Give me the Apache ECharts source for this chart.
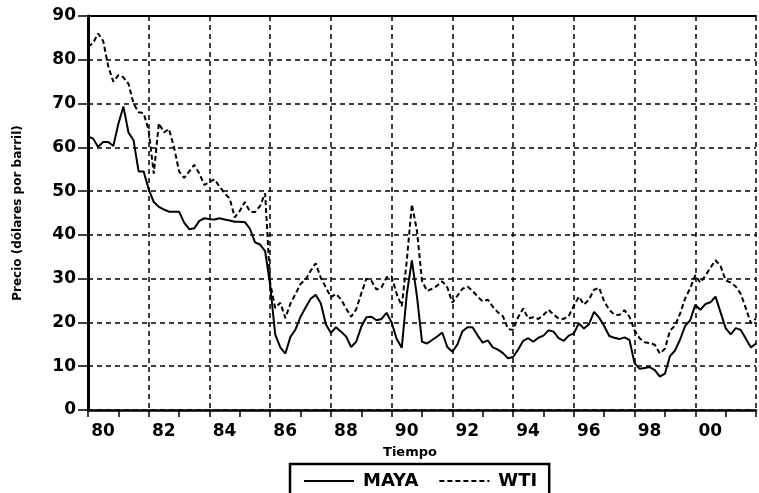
<!DOCTYPE html>
<html>
<head>
<meta charset="utf-8">
<script src="https://cdn.jsdelivr.net/npm/echarts@6/dist/echarts.min.js"></script>
<style>
  html, body { margin: 0; padding: 0; background: #fff; }
  #chart { width: 759px; height: 493px; }
</style>
</head>
<body>
<div id="chart"></div>
<script>
// samples every two months, Jan 1980 .. Jan 2002
const startYear = 1980
const stepsPerYear = 6

const wti = [
  83, 83.8, 86, 84.3, 78.5, 75,
  76.5, 76, 74.5, 70, 68, 67.8,
  63.8, 54, 65.5, 63.4, 64.2, 60,
  54.5, 53, 54.5, 56, 54, 51.4,
  52.1, 52.7, 51, 49.5, 48.3, 44,
  45.5, 47.5, 45.3, 45.2, 46.6, 49.5,
  29, 23.3, 24.5, 21, 24.3, 26.5,
  28.8, 29.8, 31.8, 33.5, 30.2, 28,
  25.8, 26.5, 25.3, 23.2, 21.3, 23,
  26.6, 30, 29.5, 27.5, 28, 30.3,
  30.5, 26.5, 23.7, 34.2, 47, 41,
  29.5, 27.2, 27.7, 28.4, 29.4, 28,
  24.5, 26.1, 27.7, 28.2, 27.2, 25.9,
  24.8, 25.2, 23.6, 22.3, 21.4, 18.5,
  18.3, 21.2, 23.2, 20.9, 21.2, 20.8,
  21.7, 22.9, 21.8, 20.9, 20.8, 21.5,
  23.8, 25.9, 24.1, 25.2, 27.5, 27.9,
  24.8, 22.9, 21.8, 21.7, 22.8, 21.3,
  18.2, 16.4, 15.5, 15.3, 14.9, 12.9,
  14, 18.1, 19.3, 22, 25.5, 27.8,
  30.8, 29.1, 30.7, 32.5, 34.2, 32.9,
  29.6, 29.1, 28.2, 26.5, 23.2, 19.8,
  20.9
]

const maya = [
  62.5, 62, 60.1, 61.2, 61.2, 60.3,
  65.4, 69.3, 63.4, 61.6, 54.5, 54.5,
  50.4, 47.5, 46.4, 45.8, 45.3, 45.3,
  45.3, 42.8, 41.3, 41.5, 43.2, 43.8,
  43.6, 43.5, 43.8, 43.5, 43.3, 43,
  43, 42.9, 41.4, 38.3, 37.8, 36.3,
  28.5, 17.2, 14.3, 12.9, 16.7, 18.4,
  21.3, 23.4, 25.4, 26.3, 24.4, 19.6,
  17.6, 18.9, 17.9, 16.8, 14.4, 15.6,
  19, 21.2, 21.3, 20.5, 20.8, 22.2,
  20, 16.2, 14.2, 26.5, 34.2, 26,
  15.6, 15.2, 16, 16.8, 17.7, 14.4,
  13.3, 15, 18, 18.9, 18.9, 17,
  15.4, 15.9, 14.3, 13.8, 13, 11.8,
  12.1, 13.8, 15.8, 16.4, 15.6, 16.5,
  17, 18.2, 17.9, 16.4, 15.8, 17,
  17.5, 19.8, 18.6, 19.6, 22.4, 21.1,
  19.2, 16.9, 16.5, 16.2, 16.6, 16,
  10.7, 9.4, 9.6, 9.8, 9.1, 7.6,
  8.3, 12.3, 13.6, 16.1, 19.2, 20.5,
  24, 22.9, 24.2, 24.6, 25.9, 22.3,
  18.7, 17.3, 18.7, 18.3, 16.3, 14.3,
  15.2
]

const seriesNames = ['MAYA', 'WTI']
const xTitle = 'Tiempo'
const yTitle = 'Precio (dólares por barril)'

const toPairs = arr => arr.map((v, i) => [startYear + i / stepsPerYear, v])

const chart = echarts.init(document.getElementById('chart'))

const labelFont = { fontFamily: 'DejaVu Sans', fontWeight: 'bold', color: '#000' }
const gridLine = { show: true, lineStyle: { color: '#000', width: 1.5, type: [5, 4] } }

const option = {
  backgroundColor: '#fff',
  animation: false,
  grid: { left: 88, right: 1, top: 16, bottom: 83 },
  legend: {
    data: seriesNames,
    left: 290,
    top: 464,
    padding: [8, 12, 12, 13],
    borderColor: '#000',
    borderWidth: 2.5,
    itemWidth: 50,
    itemHeight: 14,
    itemGap: 20,
    itemStyle: { opacity: 0 },
    textStyle: Object.assign({ fontSize: 18, padding: [0, 0, 0, 4] }, labelFont)
  },
  xAxis: [
    {
      type: 'value',
      min: 1980,
      max: 2002,
      interval: 2,
      name: xTitle,
      nameLocation: 'middle',
      nameGap: 36,
      nameTextStyle: Object.assign({ fontSize: 13, padding: [0, 24, 0, 0] }, labelFont),
      axisLine: { show: true, lineStyle: { color: '#000', width: 2.5 } },
      axisTick: { show: true, length: 7, lineStyle: { color: '#000', width: 1.5 } },
      minorTick: { show: true, splitNumber: 2, length: 7, lineStyle: { color: '#000', width: 1.5 } },
      axisLabel: Object.assign({
        fontSize: 17,
        margin: 13,
        padding: [0, 0, 0, 30],
        formatter: v => v >= 2002 ? '' : String(v % 100).padStart(2, '0')
      }, labelFont),
      splitLine: gridLine
    },
    {
      type: 'value',
      position: 'top',
      min: 1980,
      max: 2002,
      axisLine: { show: true, lineStyle: { color: '#000', width: 2 } },
      axisTick: { show: false },
      axisLabel: { show: false },
      splitLine: { show: false }
    }
  ],
  yAxis: {
    type: 'value',
    min: 0,
    max: 90,
    interval: 10,
    name: yTitle,
    nameLocation: 'middle',
    nameGap: 64,
    nameTextStyle: Object.assign({ fontSize: 12 }, labelFont),
    axisLine: { show: true, lineStyle: { color: '#000', width: 3 } },
    axisTick: { show: true, length: 10, lineStyle: { color: '#000', width: 1.5 } },
    axisLabel: Object.assign({ fontSize: 17, margin: 12 }, labelFont),
    splitLine: gridLine
  },
  series: [
    {
      name: seriesNames[0],
      type: 'line',
      symbol: 'none',
      data: toPairs(maya),
      lineStyle: { color: '#000', width: 2 },
      itemStyle: { color: '#000' }
    },
    {
      name: seriesNames[1],
      type: 'line',
      symbol: 'none',
      data: toPairs(wti),
      lineStyle: { color: '#000', width: 2, type: [5, 3] },
      itemStyle: { color: '#000' }
    }
  ]
}

chart.setOption(option)
</script>
</body>
</html>
